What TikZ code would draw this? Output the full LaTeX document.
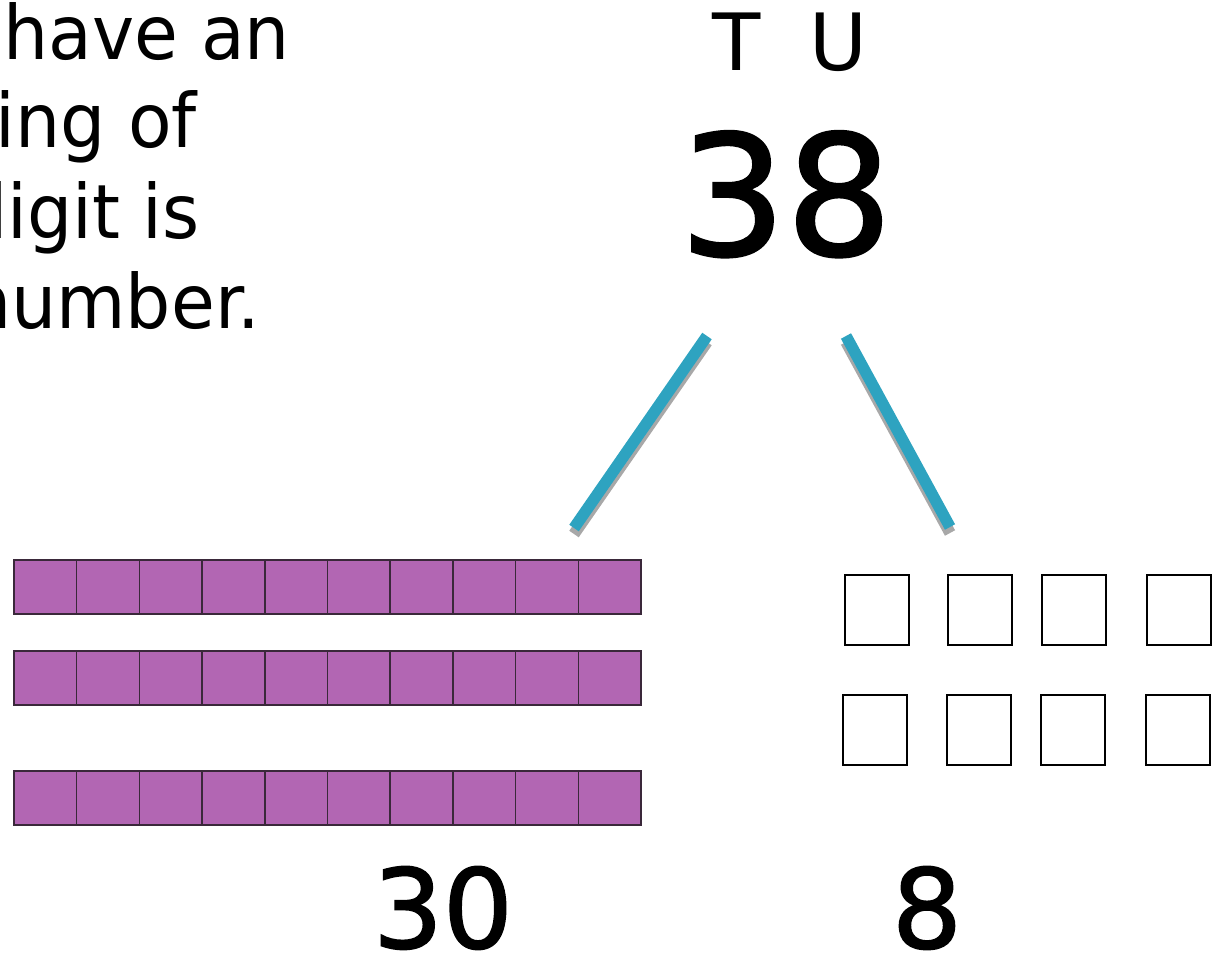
\documentclass[tikz,border=0pt]{standalone}
\usepackage{fontspec}
\newfontfamily\txtfont[FakeStretch=0.95]{DejaVu Sans}
\newfontfamily\digfont[FakeBold=1.5]{DejaVu Sans}
\newfontfamily\letfont{DejaVu Sans}
\definecolor{barpurple}{HTML}{B266B3}
\definecolor{barline}{HTML}{3A283A}
\definecolor{stickblue}{HTML}{2EA3C0}
\definecolor{stickshadow}{HTML}{A8A8A8}
\tikzset{
  txt/.style={inner sep=0pt, anchor=base west, font=\txtfont\fontsize{75}{80}\selectfont},
  bignum/.style={inner sep=0pt, anchor=base, font=\digfont\fontsize{167}{180}\selectfont},
  smallnum/.style={inner sep=0pt, anchor=base, font=\digfont\fontsize{110}{120}\selectfont},
  headlet/.style={inner sep=0pt, anchor=base, font=\letfont\fontsize{79}{86}\selectfont},
  stick/.style={line width=11.5pt, stickblue, line cap=butt},
  stickshade/.style={line width=11.5pt, stickshadow, line cap=butt},
  tencell/.style={fill=barpurple, draw=barline, line width=1.5pt},
  onecell/.style={fill=white, draw=black, line width=1.6pt}
}
\begin{document}
\begin{tikzpicture}[x=1pt,y=-1pt]
\useasboundingbox (0,0) rectangle (1218,954);
\clip (0,0) rectangle (1218,954);
% left text
\node[txt] (t1) at (3.5,59) {have an};
\node[txt] (t2) at (-5,147) {ing of};
\node[txt] (t3) at (-38,238) {digit is};
\node[txt] (t4) at (-34,328) {number.};
% headings
\node[headlet] (T) at (737,70) {T};
\node[headlet] (U) at (838,70) {U};
\node[bignum] (n38) at (786,255) {38};
% sticks
\coordinate (la) at (707,336);
\coordinate (lb) at (574,528);
\coordinate (ra) at (846,336);
\coordinate (rb) at (950,527);
\draw[stickshade] ([shift={(0,6)}]la) -- ([shift={(0,6)}]lb);
\draw[stickshade] ([shift={(0,6)}]ra) -- ([shift={(0,6)}]rb);
\draw[stick] (la) -- (lb);
\draw[stick] (ra) -- (rb);
% tens rods
\foreach \y in {560,651,771}{
  \foreach \i in {0,...,9}{
    \draw[tencell] (14+62.7*\i,\y) rectangle (14+62.7*\i+62.7,\y+54);
  }
}
% ones
\foreach \x in {845,948,1042,1147}{
  \draw[onecell] (\x,575) rectangle (\x+64,645);
}
\foreach \x in {843,947,1041,1146}{
  \draw[onecell] (\x,695) rectangle (\x+64,765);
}
% bottom numbers
\node[smallnum] (n30) at (443,948) {30};
\node[smallnum] (n8) at (927,948) {8};
\end{tikzpicture}
\end{document}
